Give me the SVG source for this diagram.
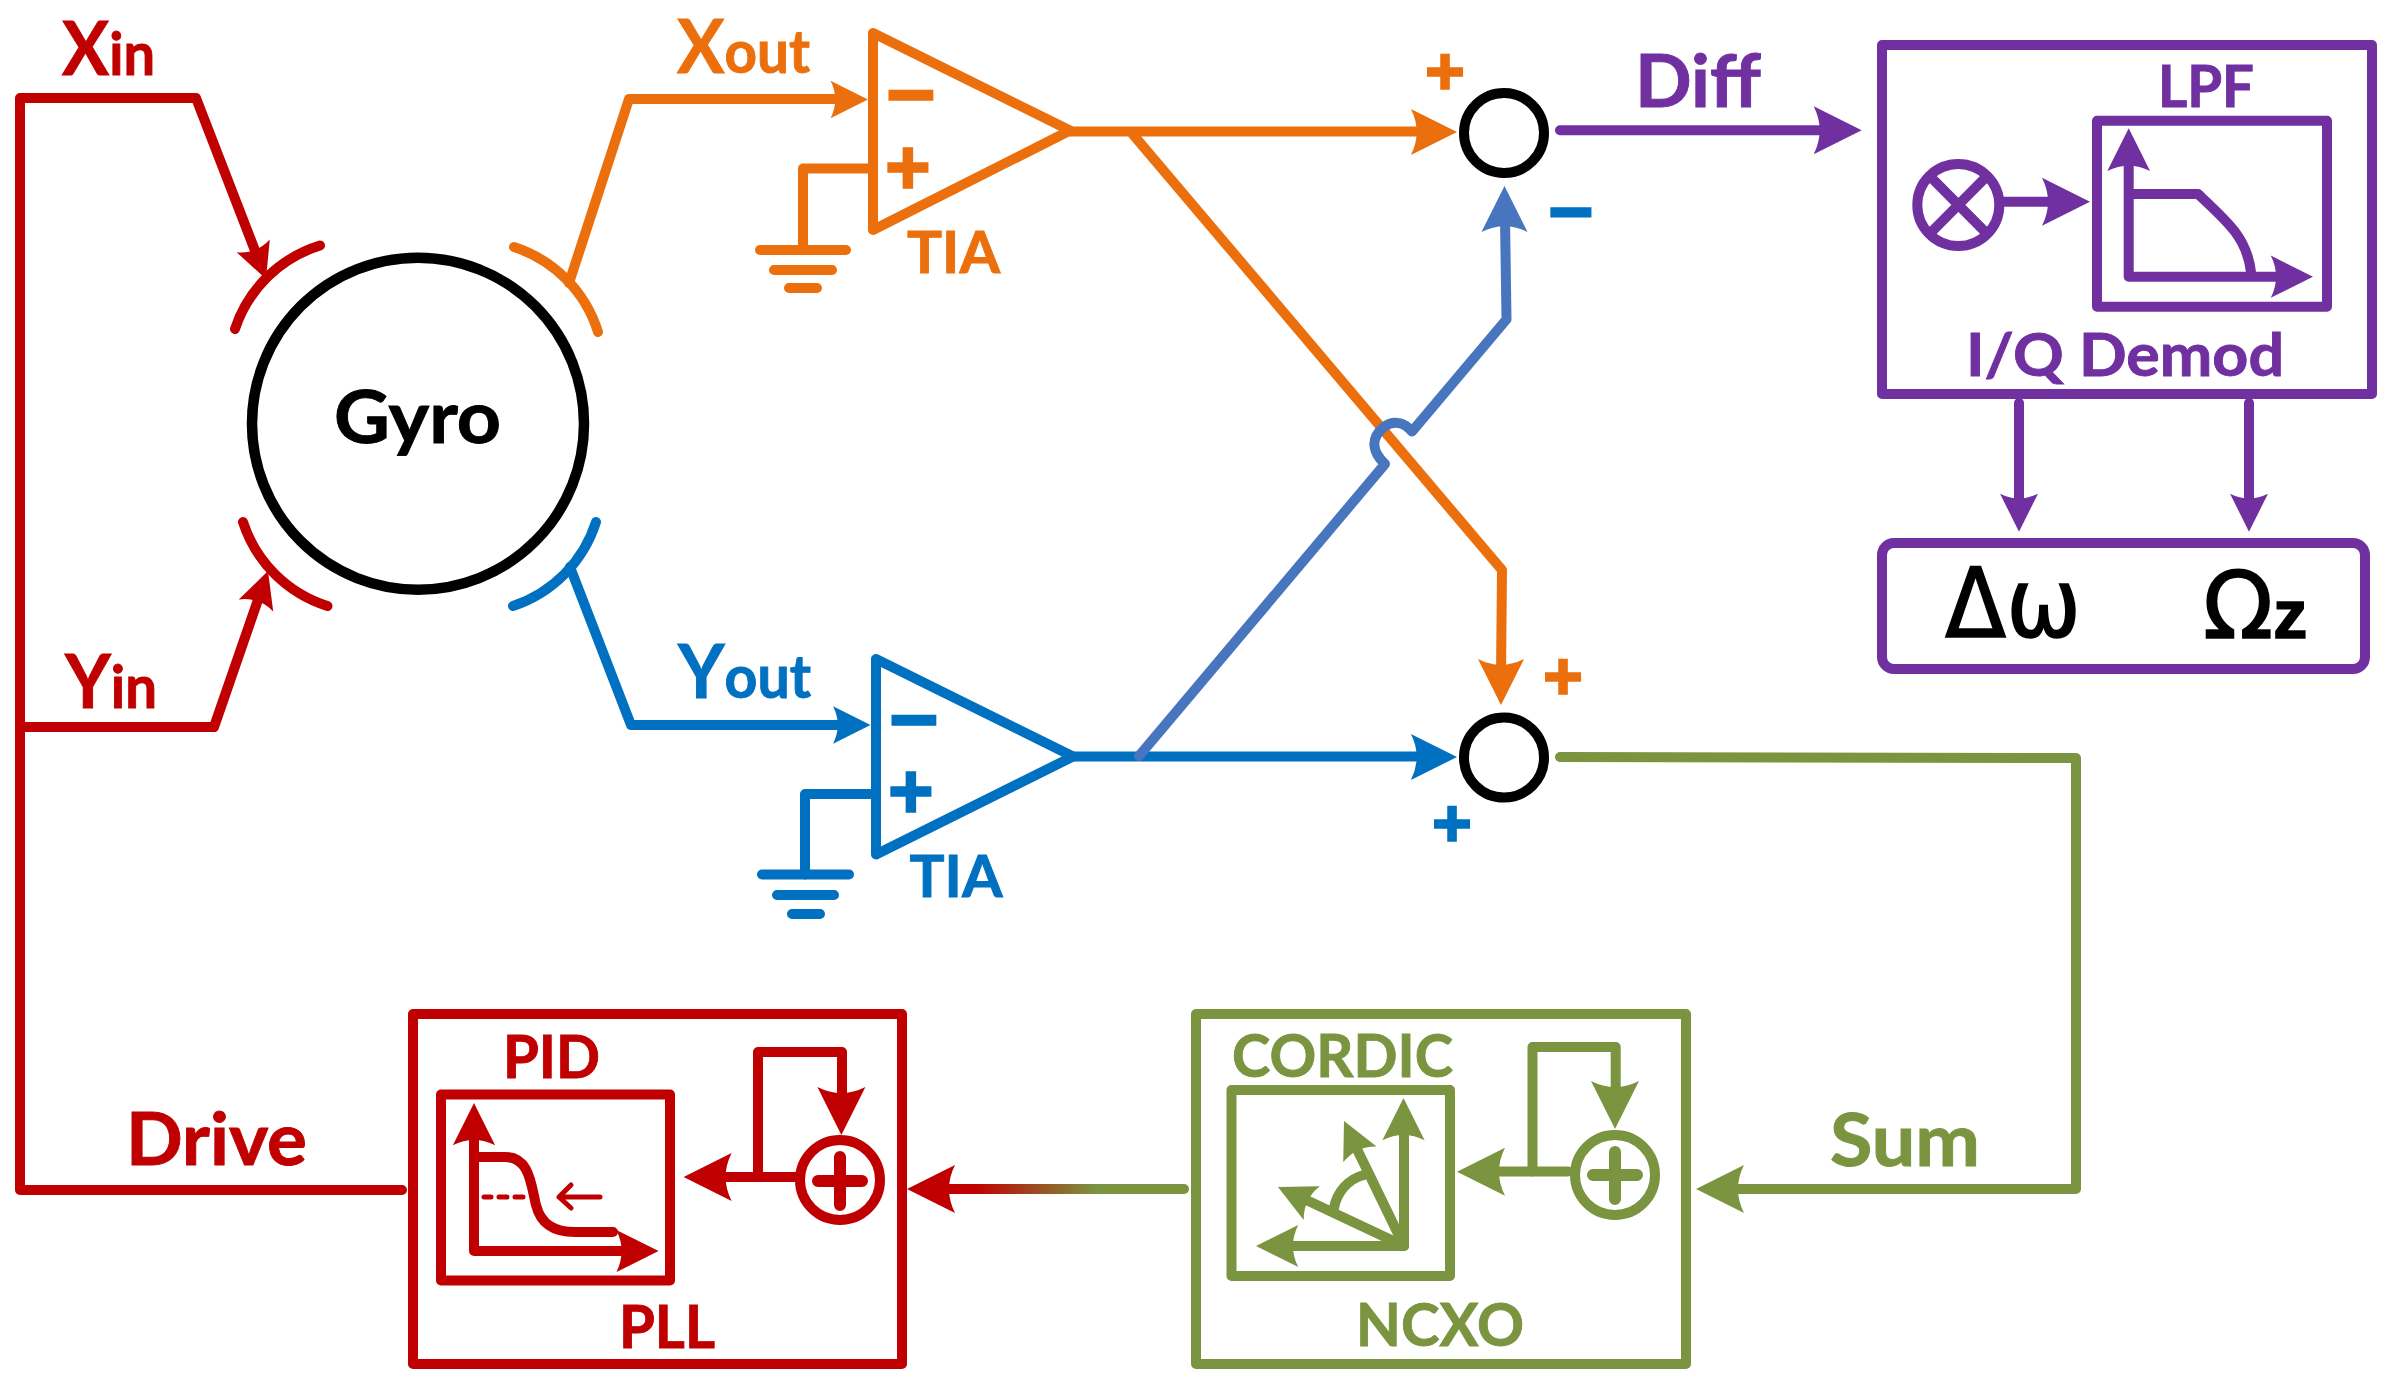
<svg xmlns="http://www.w3.org/2000/svg" width="2386" height="1384" viewBox="0 0 2386 1384">
<style>
.red{color:#C00000}.org{color:#EB700D}.blu{color:#0070C0}.lbl{color:#4876BE}.pur{color:#7030A0}.grn{color:#7A9440}.blk{color:#000}
.l{fill:none;stroke:currentColor;stroke-width:10;stroke-linecap:round;stroke-linejoin:round}
.h{fill:currentColor;stroke:none}
.t{font-family:"Lato","Liberation Sans",sans-serif;font-weight:700;fill:currentColor;stroke:currentColor;stroke-width:.9}
.s{font-family:"DejaVu Sans",sans-serif;font-weight:700;fill:currentColor;stroke:currentColor;stroke-width:3.5;text-anchor:middle}
.m{font-family:"DejaVu Sans",sans-serif;fill:#000;stroke:#000;stroke-width:1.6}
</style>
<defs>
<path id="ah" d="M0,0 L-48,-24 Q-36,0 -48,24 Z"/>
<linearGradient id="rg" gradientUnits="userSpaceOnUse" x1="974" y1="0" x2="1096" y2="0"><stop offset="0" stop-color="#C00000"/><stop offset="1" stop-color="#7A9440"/></linearGradient>
</defs>
<rect width="2386" height="1384" fill="#fff"/>
<g id="connectors">
<g class="red">
<path class="l" d="M257,255.7 L196,98 H20 V1190 H402"/>
<path class="l" d="M20,727 H214 L259.8,594.6"/>
<use class="h" href="#ah" transform="translate(266,279) rotate(68.9) scale(.74)"/>
<use class="h" href="#ah" transform="translate(268,571) rotate(-70.8) scale(.76)"/>
<use class="h" href="#ah" transform="translate(907,1189) rotate(180)"/>
</g>
<path d="M935,1189 H1184" fill="none" stroke="url(#rg)" stroke-width="10" stroke-linecap="round"/>
<g class="org">
<path class="l" d="M569,283 L629,99 H840"/>
<use class="h" href="#ah" transform="translate(868,99.5) scale(.78)"/>
<path class="l" d="M1070,131.5 H1425"/>
<use class="h" href="#ah" transform="translate(1457,132) scale(.96)"/>
<path class="l" d="M1133,134.5 L1502,570 L1501,675"/>
<use class="h" href="#ah" transform="translate(1501,705) rotate(90) scale(.96)"/>
</g>
<g class="blu">
<path class="l" d="M570,567 L631,725 H843"/>
<use class="h" href="#ah" transform="translate(870.5,725) scale(.78)"/>
<path class="l" d="M1073,756.5 H1425"/>
<use class="h" href="#ah" transform="translate(1457,757) scale(.96)"/>
</g>
<g class="lbl">
<path class="l" d="M1139,756 L1385,464 C1372,452 1370,438 1384,427 C1394,419 1405,423 1412,431.5 L1506.5,319.4 L1505,218"/>
<use class="h" href="#ah" transform="translate(1504.5,186) rotate(-90) scale(.96)"/>
</g>
<g class="pur">
<path class="l" d="M1560,130.3 H1830"/>
<use class="h" href="#ah" transform="translate(1861.7,130.3)"/>
<path class="l" d="M2019,403 V505"/>
<use class="h" href="#ah" transform="translate(2019,531.7) rotate(90) scale(.79)"/>
<path class="l" d="M2249,403 V505"/>
<use class="h" href="#ah" transform="translate(2249,531.7) rotate(90) scale(.79)"/>
</g>
<g class="grn">
<path class="l" d="M1560,757 L2076,758 V1189 H1720"/>
<use class="h" href="#ah" transform="translate(1696,1189) rotate(180)"/>
</g>
</g>

<g id="gyro">
<circle cx="418" cy="423.7" r="166" fill="none" stroke="#000" stroke-width="10.5"/>
<text class="t blk" x="334" y="443" font-size="72" textLength="167" lengthAdjust="spacingAndGlyphs">Gyro</text>
<path class="l red" d="M235,329 A130,130 0 0 1 320,245.5"/>
<path class="l red" d="M243,522 A130,130 0 0 0 327.5,606"/>
<path class="l org" d="M598,332 A130,130 0 0 0 514,247"/>
<path class="l blu" d="M596,522 A130,130 0 0 1 513,606"/>
</g>
<g id="lbl-xin" class="red"><text class="t" x="62" y="75" font-size="59" textLength="93" lengthAdjust="spacingAndGlyphs"><tspan font-size="74">X</tspan>in</text></g>
<g id="lbl-yin" class="red"><text class="t" x="65" y="708" font-size="59" textLength="92" lengthAdjust="spacingAndGlyphs"><tspan font-size="74">Y</tspan>in</text></g>
<g id="lbl-drive" class="red"><text class="t" x="126" y="1165" font-size="72" textLength="181" lengthAdjust="spacingAndGlyphs">Drive</text></g>
<g id="lbl-xout" class="org"><text class="t" x="677" y="73" font-size="59" textLength="133" lengthAdjust="spacingAndGlyphs"><tspan font-size="74">X</tspan>out</text></g>
<g id="lbl-yout" class="blu"><text class="t" x="678" y="698" font-size="59" textLength="133" lengthAdjust="spacingAndGlyphs"><tspan font-size="74">Y</tspan>out</text></g>
<g id="lbl-diff" class="pur"><text class="t" x="1635" y="107.3" font-size="72" textLength="126" lengthAdjust="spacingAndGlyphs">Diff</text></g>
<g id="lbl-sum" class="grn"><text class="t" x="1830" y="1166" font-size="72" textLength="150" lengthAdjust="spacingAndGlyphs">Sum</text></g>

<g id="tia-x" class="org">
<path class="l" d="M873,33 V230 L1070,130.5 Z"/>
<path class="l" d="M873,168.5 H803 V250"/>
<path class="l" d="M760,250 H846 M774,270 H832 M789,288 H817"/>
<text class="s" x="911" y="116" font-size="66">−</text>
<text class="s" x="908" y="187" font-size="60">+</text>
<text class="t" x="907" y="273" font-size="58" textLength="93" lengthAdjust="spacingAndGlyphs">TIA</text>
</g>
<g id="tia-y" class="blu">
<path class="l" d="M876,659 V854.5 L1073,756.5 Z"/>
<path class="l" d="M876,794 H805 V874.5"/>
<path class="l" d="M762,874.5 H849 M777,895 H834 M792,914 H820"/>
<text class="s" x="914" y="741" font-size="66">−</text>
<text class="s" x="911" y="811" font-size="60">+</text>
<text class="t" x="909.5" y="897" font-size="58" textLength="93" lengthAdjust="spacingAndGlyphs">TIA</text>
</g>

<g id="sum-diff">
<circle cx="1504" cy="133" r="40" fill="none" stroke="#000" stroke-width="10"/>
<text class="s org" x="1445" y="88" font-size="52">+</text>
<text class="s blu" x="1571" y="231" font-size="60">−</text>
</g>
<g id="sum-sum">
<circle cx="1504" cy="757.6" r="40" fill="none" stroke="#000" stroke-width="10"/>
<text class="s org" x="1563" y="693" font-size="52">+</text>
<text class="s blu" x="1452" y="840" font-size="52">+</text>
</g>

<g id="demod" class="pur">
<rect class="l" x="1882" y="45" width="490" height="349"/>
<text class="t" x="2158" y="106.7" font-size="58" textLength="96" lengthAdjust="spacingAndGlyphs">LPF</text>
<text class="t" x="1966" y="376" font-size="60" textLength="318" lengthAdjust="spacingAndGlyphs">I/Q Demod</text>
<circle class="l" cx="1958.3" cy="205" r="41"/>
<path class="l" d="M1930.7,177 L1986,232.7 M1986,177 L1930.7,232.7"/>
<path class="l" d="M2004,201.7 H2060"/>
<use class="h" href="#ah" transform="translate(2090,201.7)"/>
<rect class="l" x="2097" y="120.7" width="230" height="186"/>
<path class="l" d="M2128.7,160 V276.7 H2280"/>
<use class="h" href="#ah" transform="translate(2128.7,128.3) rotate(-90) scale(.89)"/>
<use class="h" href="#ah" transform="translate(2313,276.7) scale(.88)"/>
<path class="l" d="M2133,194 H2198 C2228,222 2247,238 2251,272"/>
</g>
<g id="output">
<rect class="l pur" x="1882" y="543" width="483" height="126" rx="12"/>
<text class="m" x="1945" y="637" font-size="96" textLength="136" lengthAdjust="spacingAndGlyphs">Δω</text>
<text class="m" x="2203" y="638" font-size="92">Ω<tspan font-family="Liberation Sans" font-size="68" font-weight="700">z</tspan></text>
</g>

<g id="pll" class="red">
<rect class="l" x="413" y="1014" width="489" height="350"/>
<rect class="l" x="441" y="1094.5" width="229" height="186"/>
<text class="t" x="503" y="1078" font-size="60" textLength="97" lengthAdjust="spacingAndGlyphs">PID</text>
<text class="t" x="619" y="1348" font-size="60" textLength="96" lengthAdjust="spacingAndGlyphs">PLL</text>
<path class="l" d="M474,1135 V1251 H625"/>
<use class="h" href="#ah" transform="translate(474,1103) rotate(-90) scale(.88)"/>
<use class="h" href="#ah" transform="translate(658.6,1251) scale(.88)"/>
<path class="l" d="M478,1157 H505 C530,1157 531,1185 536,1205 C541,1225 555,1232 575,1232 H613"/>
<path class="l" style="stroke-width:5" d="M484,1197 H491 M499,1197 H507 M515,1197 H523"/>
<path class="l" style="stroke-width:5" d="M600,1197 H559 M571,1185 L559,1197 L571,1208"/>
<circle class="l" cx="840" cy="1180" r="40"/>
<path class="l" style="stroke-width:12" d="M818,1181 H862 M840,1157 V1205"/>
<path class="l" d="M795,1177 H715"/>
<use class="h" href="#ah" transform="translate(683.6,1177)rotate(180)"/>
<path class="l" d="M758,1177 V1052 H842 V1105"/>
<use class="h" href="#ah" transform="translate(841.4,1135) rotate(90)"/>
</g>

<g id="ncxo" class="grn">
<rect class="l" x="1196" y="1014" width="490" height="350"/>
<rect class="l" x="1231.5" y="1090" width="218.5" height="186"/>
<text class="t" x="1232" y="1077" font-size="60" textLength="221" lengthAdjust="spacingAndGlyphs">CORDIC</text>
<text class="t" x="1356" y="1346" font-size="60" textLength="168" lengthAdjust="spacingAndGlyphs">NCXO</text>
<path class="l" d="M1404,1130 V1246 H1290"/>
<use class="h" href="#ah" transform="translate(1403.5,1098) rotate(-90) scale(.88)"/>
<use class="h" href="#ah" transform="translate(1256,1246) rotate(180) scale(.88)"/>
<path class="l" d="M1404,1246 L1354,1143 M1404,1246 L1300,1197"/>
<use class="h" href="#ah" transform="translate(1344,1121) rotate(-115.5) scale(.77)"/>
<use class="h" href="#ah" transform="translate(1278,1187) rotate(-154.5) scale(.78)"/>
<path class="l" d="M1334,1208 C1337,1192 1348,1179 1364,1175"/>
<circle class="l" cx="1615" cy="1175" r="40"/>
<path class="l" style="stroke-width:12" d="M1593,1175 H1637 M1615,1152 V1199"/>
<path class="l" d="M1568,1171.5 H1490"/>
<use class="h" href="#ah" transform="translate(1457,1171.7) rotate(180)"/>
<path class="l" d="M1532.5,1171.5 V1047 H1615.7 V1100"/>
<use class="h" href="#ah" transform="translate(1615,1129) rotate(90)"/>
</g>
</svg>
